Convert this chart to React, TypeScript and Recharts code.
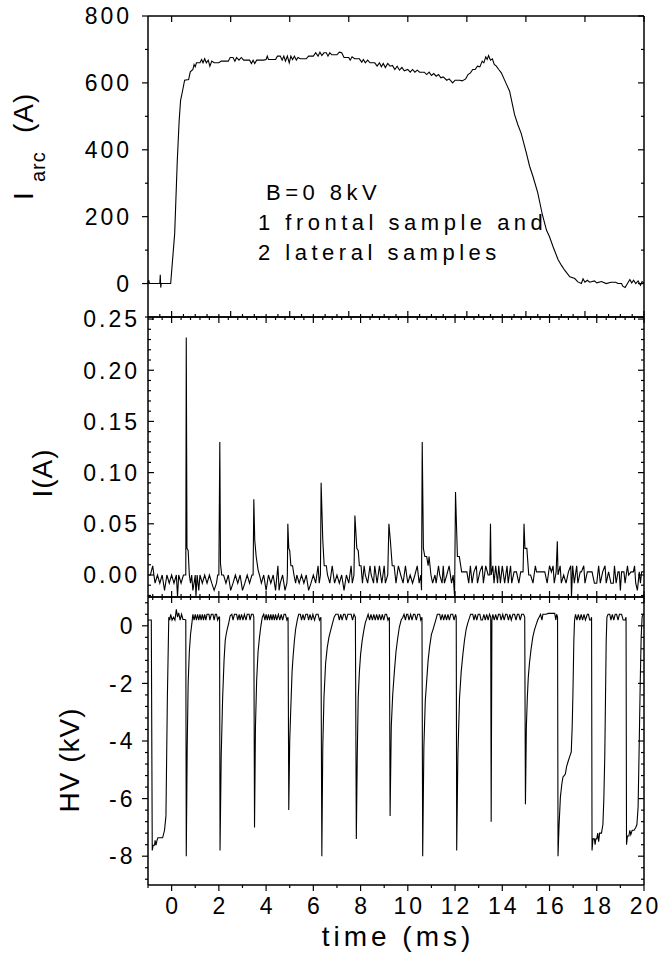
import { Line, LineChart, XAxis, YAxis } from 'recharts'

const W = 662
const H = 954
const PLOT_LEFT = 148
const PLOT_RIGHT = 644
const AXIS_PX = 1
const FONT = '"Liberation Sans", Arial, Helvetica, sans-serif'

const timeDomain: [number, number] = [-1, 20]

// arc current (t in ms, A)
const arcPoints: [number, number][] = [
  [-1.0, 0], [-0.97, 10], [-0.94, 0], [-0.5, 0], [-0.48, 26], [-0.46, -12], [-0.44, 0], [-0.04, 0],
  [0.13, 150], [0.24, 368], [0.32, 488], [0.38, 548], [0.46, 575], [0.55, 608], [0.72, 610], [0.79, 633],
  [0.9, 640], [0.95, 655], [1.0, 648], [1.05, 660], [1.2, 660], [1.27, 670], [1.33, 660], [1.4, 672],
  [1.47, 660], [1.55, 668], [1.62, 650], [1.7, 665], [1.8, 660], [2.0, 660], [2.1, 665], [2.4, 665],
  [2.48, 676], [2.6, 676], [2.68, 665], [2.75, 676], [2.85, 668], [2.95, 676], [3.05, 668], [3.3, 668],
  [3.38, 658], [3.45, 668], [3.52, 658], [3.6, 668], [3.9, 668], [4.0, 670], [4.05, 680], [4.1, 670],
  [4.4, 670], [4.48, 680], [4.6, 680], [4.68, 668], [4.75, 680], [4.82, 665], [4.9, 680], [4.98, 660],
  [5.05, 680], [5.12, 670], [5.2, 680], [5.28, 668], [5.35, 676], [5.45, 672], [5.7, 672], [5.8, 680],
  [6.0, 680], [6.1, 690], [6.2, 680], [6.28, 692], [6.36, 682], [6.45, 690], [6.55, 690], [6.62, 680],
  [6.7, 690], [6.78, 684], [7.0, 684], [7.1, 692], [7.2, 690], [7.3, 676], [7.5, 676], [7.56, 668],
  [7.64, 678], [7.75, 672], [7.95, 672], [8.05, 662], [8.12, 670], [8.2, 660], [8.3, 668], [8.4, 660],
  [8.6, 660], [8.7, 650], [8.8, 660], [8.88, 648], [8.96, 658], [9.05, 646], [9.15, 658], [9.25, 650],
  [9.35, 652], [9.45, 640], [9.55, 650], [9.65, 638], [9.75, 646], [9.85, 636], [10.0, 640], [10.1, 632],
  [10.2, 640], [10.3, 632], [10.4, 638], [10.5, 632], [10.7, 632], [10.8, 625], [10.9, 632], [11.0, 622],
  [11.1, 628], [11.2, 620], [11.3, 625], [11.4, 615], [11.5, 618], [11.65, 608], [11.75, 612], [11.9, 600],
  [12.0, 608], [12.2, 608], [12.3, 606], [12.45, 612], [12.55, 625], [12.65, 630], [12.75, 640], [12.85, 640],
  [12.95, 650], [13.05, 648], [13.15, 665], [13.22, 660], [13.3, 678], [13.36, 670], [13.42, 682], [13.5, 668],
  [13.58, 672], [13.66, 655], [13.75, 650], [13.85, 640], [13.96, 630], [14.15, 600], [14.31, 575], [14.52, 505],
  [14.66, 475], [14.8, 449], [15.02, 390], [15.16, 350], [15.3, 320], [15.5, 272], [15.7, 205], [15.87, 160],
  [16.0, 140], [16.15, 110], [16.36, 72], [16.5, 55], [16.64, 40], [16.86, 20], [17.07, 15], [17.2, 5],
  [17.35, 0], [17.42, 14], [17.5, 4], [17.6, 10], [17.7, 4], [17.9, 8], [18.0, 2], [18.2, 6],
  [18.4, 0], [18.6, 4], [18.8, 4], [18.9, 0], [19.05, 0], [19.1, -8], [19.2, -12], [19.3, 0],
  [19.4, 12], [19.48, 2], [19.56, 10], [19.65, 0], [19.75, 8], [19.85, -5], [19.92, 6], [20.0, 2],
]

// probe current (t in ms, A)
const probePoints: [number, number][] = [
  [-1.0, 0], [-0.9, 0], [-0.8, 0.009], [-0.75, 0], [-0.7, -0.008], [-0.6, 0], [-0.5, -0.008], [-0.4, 0],
  [-0.3, -0.015], [-0.2, 0], [-0.1, -0.008], [0.0, 0], [0.1, -0.008], [0.2, 0], [0.25, -0.021], [0.3, 0],
  [0.4, -0.008], [0.5, 0], [0.6, 0], [0.62, 0.232], [0.65, 0.026], [0.7, 0.024], [0.75, 0], [0.8, -0.008],
  [0.85, 0], [0.9, -0.015], [0.95, -0.008], [1.0, 0], [1.03, -0.021], [1.08, 0], [1.15, -0.015], [1.2, 0],
  [1.3, -0.008], [1.4, 0], [1.5, -0.008], [1.6, 0], [1.7, -0.008], [1.8, -0.015], [1.9, -0.008], [1.95, 0],
  [2.0, 0], [2.04, 0.13], [2.07, 0.011], [2.12, 0], [2.2, 0], [2.3, -0.008], [2.4, 0], [2.5, -0.015],
  [2.6, -0.008], [2.7, 0], [2.8, -0.008], [2.9, 0], [3.0, -0.015], [3.1, -0.008], [3.2, 0], [3.3, -0.008],
  [3.4, 0], [3.45, 0], [3.48, 0.074], [3.52, 0.034], [3.58, 0.018], [3.66, 0.005], [3.72, 0], [3.8, -0.008],
  [3.9, 0], [4.0, -0.015], [4.1, 0], [4.2, -0.008], [4.3, 0], [4.4, -0.015], [4.5, 0.009], [4.55, -0.015],
  [4.6, -0.008], [4.7, 0], [4.8, -0.015], [4.88, -0.008], [4.9, 0], [4.92, 0.05], [4.96, 0.026], [5.0, 0.024],
  [5.05, 0.009], [5.12, 0.009], [5.18, 0], [5.25, -0.008], [5.3, 0], [5.4, -0.008], [5.5, 0], [5.6, -0.008],
  [5.7, 0], [5.8, -0.015], [5.9, -0.008], [6.0, 0], [6.1, -0.008], [6.2, 0.009], [6.25, -0.008], [6.3, 0],
  [6.33, 0.09], [6.4, 0.034], [6.46, 0.009], [6.55, 0.009], [6.6, 0], [6.7, -0.008], [6.8, 0.009], [6.85, 0],
  [6.9, -0.008], [7.0, 0], [7.1, -0.008], [7.2, 0], [7.3, -0.015], [7.4, 0], [7.5, -0.008], [7.6, 0.009],
  [7.65, -0.008], [7.72, 0], [7.76, 0.058], [7.84, 0.026], [7.9, 0.024], [7.95, 0.009], [8.02, 0.009], [8.08, -0.008],
  [8.15, 0.009], [8.2, 0], [8.3, -0.008], [8.4, 0.009], [8.45, 0], [8.55, -0.008], [8.6, 0.009], [8.7, -0.008],
  [8.8, 0.009], [8.85, 0], [8.9, -0.008], [9.0, 0.009], [9.05, -0.008], [9.15, 0], [9.2, 0.05], [9.26, 0.034],
  [9.34, 0.009], [9.42, 0.009], [9.5, -0.008], [9.6, 0.009], [9.7, 0], [9.8, -0.008], [9.9, 0.009], [9.95, 0],
  [10.0, -0.008], [10.1, 0], [10.2, -0.008], [10.3, 0], [10.4, 0.009], [10.48, -0.008], [10.55, 0], [10.58, -0.015],
  [10.61, 0.13], [10.66, 0.026], [10.72, 0.018], [10.8, 0.018], [10.86, 0.009], [10.9, 0.018], [10.98, 0], [11.05, -0.008],
  [11.15, 0], [11.2, -0.008], [11.3, 0.009], [11.35, 0], [11.45, -0.008], [11.5, 0.009], [11.55, -0.008], [11.65, 0],
  [11.75, 0.009], [11.85, -0.008], [11.92, 0], [11.98, -0.021], [12.02, 0.081], [12.1, 0.018], [12.18, 0.018], [12.28, 0.003],
  [12.4, 0.003], [12.5, 0.003], [12.58, -0.008], [12.65, 0.009], [12.72, -0.008], [12.8, 0.003], [12.9, 0.009], [12.95, -0.008],
  [13.05, 0.003], [13.15, 0.009], [13.2, -0.008], [13.3, 0.009], [13.4, 0], [13.47, 0], [13.5, 0.05], [13.53, 0],
  [13.6, 0.009], [13.65, -0.008], [13.72, 0.009], [13.8, -0.008], [13.85, 0.009], [13.92, -0.008], [14.0, 0.009], [14.1, -0.008],
  [14.2, 0.009], [14.25, -0.008], [14.35, 0.009], [14.4, -0.008], [14.5, 0.003], [14.6, 0.003], [14.7, -0.008], [14.78, 0.003],
  [14.88, 0.003], [14.92, 0.05], [14.96, 0.026], [15.04, 0.026], [15.12, 0], [15.2, 0], [15.3, -0.008], [15.4, 0.009],
  [15.45, 0.003], [15.6, 0.003], [15.8, 0.003], [15.9, -0.008], [16.0, 0.009], [16.08, 0.003], [16.15, 0.009], [16.2, -0.008],
  [16.28, 0.003], [16.33, 0.033], [16.36, 0], [16.45, 0.009], [16.5, -0.008], [16.6, 0], [16.7, -0.008], [16.8, 0.003],
  [16.9, 0.009], [16.93, -0.021], [16.98, 0.009], [17.05, -0.008], [17.15, 0.009], [17.2, -0.008], [17.3, 0.003], [17.35, 0.003],
  [17.45, 0.009], [17.5, -0.008], [17.6, 0.003], [17.7, 0.003], [17.8, 0.003], [17.9, -0.008], [18.0, -0.008], [18.08, 0.009],
  [18.15, -0.008], [18.25, 0.003], [18.35, 0.009], [18.4, -0.008], [18.5, 0.003], [18.6, -0.008], [18.7, -0.008], [18.75, 0.009],
  [18.82, -0.008], [18.9, 0.003], [18.95, 0.003], [19.0, -0.015], [19.05, 0.003], [19.15, 0.003], [19.2, -0.008], [19.3, 0.009],
  [19.35, 0], [19.45, 0.003], [19.55, 0.003], [19.6, 0.009], [19.65, -0.008], [19.72, -0.015], [19.8, 0.003], [19.85, -0.008],
  [19.9, 0.003], [19.95, 0.003], [20.0, 0.003],
]

// high voltage (t in ms, kV)
const hvPoints: [number, number][] = [
  [-1.0, 0.2], [-0.86, 0.2], [-0.82, -7.8], [-0.78, -7.62], [-0.72, -7.62], [-0.7, -7.45], [-0.66, -7.62], [-0.62, -7.45],
  [-0.58, -7.36], [-0.38, -7.36], [-0.3, -7.1], [-0.24, -6.6], [-0.18, -2.5], [-0.12, 0.3], [-0.08, 0.2], [-0.04, 0.4],
  [0.02, 0.2], [0.08, 0.3], [0.14, 0.2], [0.2, 0.57], [0.25, 0.3], [0.3, 0.45], [0.36, 0.2], [0.42, 0.4],
  [0.48, 0.22], [0.56, 0.22], [0.6, 0.2],
  [0.62, -8.0], [0.66, -4.2], [0.7, -2.0], [0.75, -0.9], [0.8, -0.3], [0.86, 0.1], [0.9, 0.4], [0.95, 0.2],
  [1.0, 0.4], [1.05, 0.2], [1.1, 0.4], [1.15, 0.2], [1.2, 0.4], [1.25, 0.2], [1.3, 0.4], [1.35, 0.2],
  [1.4, 0.4], [1.45, 0.2], [1.5, 0.4], [1.58, 0.4], [1.62, 0.2], [1.68, 0.4], [1.75, 0.4], [1.8, 0.2],
  [1.85, 0.4], [1.9, 0.4], [1.95, 0.2], [2.0, 0.3], [2.03, 0.3],
  [2.05, -7.8], [2.1, -4.5], [2.16, -2.5], [2.22, -1.2], [2.27, -0.5], [2.32, -0.25], [2.36, -0.1], [2.42, 0.1],
  [2.48, 0.35], [2.55, 0.4], [2.6, 0.2], [2.66, 0.4], [2.75, 0.4], [2.8, 0.2], [2.86, 0.4], [2.9, 0.2],
  [2.96, 0.4], [3.02, 0.2], [3.08, 0.4], [3.15, 0.2], [3.2, 0.4], [3.28, 0.4], [3.32, 0.2], [3.38, 0.4],
  [3.45, 0.4], [3.48, 0.3],
  [3.51, -7.0], [3.55, -3.5], [3.6, -1.9], [3.66, -0.9], [3.72, -0.4], [3.78, 0.0], [3.84, 0.3], [3.9, 0.4],
  [3.95, 0.2], [4.0, 0.4], [4.05, 0.2], [4.1, 0.4], [4.15, 0.2], [4.2, 0.4], [4.25, 0.2], [4.3, 0.4],
  [4.35, 0.2], [4.4, 0.4], [4.45, 0.2], [4.52, 0.4], [4.58, 0.2], [4.64, 0.4], [4.7, 0.2], [4.76, 0.4],
  [4.82, 0.4], [4.88, 0.2], [4.93, 0.3],
  [4.96, -6.4], [5.0, -4.0], [5.04, -3.0], [5.1, -1.6], [5.14, -1.1], [5.2, -0.5], [5.25, -0.12], [5.32, 0.2],
  [5.38, 0.4], [5.45, 0.4], [5.5, 0.2], [5.56, 0.4], [5.62, 0.2], [5.68, 0.4], [5.75, 0.4], [5.8, 0.2],
  [5.86, 0.4], [5.92, 0.2], [5.98, 0.4], [6.05, 0.2], [6.12, 0.4], [6.2, 0.4], [6.26, 0.2], [6.32, 0.3],
  [6.36, -8.0], [6.4, -4.2], [6.45, -2.5], [6.52, -1.3], [6.59, -0.75], [6.66, -0.4], [6.72, -0.2], [6.8, 0.05],
  [6.88, 0.3], [6.95, 0.4], [7.05, 0.4], [7.1, 0.2], [7.16, 0.4], [7.22, 0.2], [7.28, 0.4], [7.34, 0.4],
  [7.4, 0.2], [7.46, 0.4], [7.52, 0.4], [7.6, 0.4], [7.66, 0.2], [7.72, 0.4], [7.78, 0.3],
  [7.82, -7.4], [7.86, -4.5], [7.9, -2.5], [7.95, -1.6], [8.0, -1.0], [8.07, -0.5], [8.14, -0.15], [8.2, 0.1],
  [8.26, 0.25], [8.32, 0.4], [8.38, 0.2], [8.44, 0.4], [8.5, 0.2], [8.56, 0.4], [8.62, 0.2], [8.68, 0.4],
  [8.74, 0.2], [8.8, 0.4], [8.86, 0.2], [8.92, 0.4], [8.98, 0.2], [9.04, 0.4], [9.1, 0.4], [9.16, 0.2],
  [9.22, 0.3],
  [9.25, -6.6], [9.3, -3.5], [9.36, -2.4], [9.43, -1.6], [9.5, -0.9], [9.56, -0.5], [9.64, -0.05], [9.72, 0.2],
  [9.79, 0.3], [9.84, 0.4], [9.9, 0.2], [9.95, 0.4], [10.0, 0.4], [10.05, 0.2], [10.12, 0.4], [10.18, 0.2],
  [10.24, 0.4], [10.3, 0.4], [10.36, 0.2], [10.42, 0.4], [10.5, 0.4], [10.55, 0.2], [10.6, 0.3],
  [10.63, -8.0], [10.68, -4.2], [10.74, -2.6], [10.8, -1.9], [10.86, -1.2], [10.92, -0.75], [11.0, -0.3], [11.06, -0.15],
  [11.13, 0.05], [11.2, 0.25], [11.25, 0.4], [11.35, 0.4], [11.4, 0.2], [11.46, 0.4], [11.52, 0.2], [11.58, 0.4],
  [11.64, 0.2], [11.7, 0.4], [11.76, 0.2], [11.82, 0.4], [11.9, 0.4], [11.96, 0.2], [12.02, 0.4], [12.05, 0.3],
  [12.07, -7.8], [12.12, -4.5], [12.19, -2.5], [12.26, -1.6], [12.33, -1.0], [12.4, -0.5], [12.47, -0.12], [12.54, 0.1],
  [12.6, 0.25], [12.66, 0.4], [12.75, 0.4], [12.8, 0.2], [12.86, 0.4], [12.92, 0.2], [12.98, 0.4], [13.05, 0.4],
  [13.1, 0.2], [13.16, 0.2], [13.22, 0.4], [13.28, 0.2], [13.34, 0.4], [13.4, 0.2], [13.46, 0.4], [13.51, 0.3],
  [13.53, -6.8], [13.56, 0.2], [13.6, 0.4], [13.66, 0.2], [13.72, 0.4], [13.78, 0.2], [13.84, 0.4], [13.9, 0.4],
  [13.95, 0.2], [14.02, 0.4], [14.08, 0.2], [14.14, 0.4], [14.2, 0.4], [14.26, 0.2], [14.32, 0.4], [14.38, 0.2],
  [14.45, 0.4], [14.52, 0.4], [14.58, 0.2], [14.64, 0.4], [14.7, 0.4], [14.76, 0.2], [14.82, 0.4], [14.9, 0.4],
  [14.95, 0.3],
  [14.98, -6.2], [15.02, -3.5], [15.06, -2.5], [15.1, -1.8], [15.15, -1.3], [15.22, -0.8], [15.29, -0.4], [15.36, -0.15],
  [15.43, 0.03], [15.5, 0.2], [15.56, 0.3], [15.62, 0.4], [15.68, 0.2], [15.72, 0.4], [15.78, 0.4], [15.85, 0.4],
  [15.95, 0.43], [16.05, 0.43], [16.15, 0.43], [16.22, 0.43], [16.27, 0.2], [16.3, 0.4], [16.34, 0.3],
  [16.36, -8.0], [16.4, -7.0], [16.46, -5.95], [16.52, -5.5], [16.57, -5.25], [16.62, -5.2], [16.67, -5.15], [16.72, -4.9],
  [16.78, -4.73], [16.85, -4.55], [16.92, -4.38], [16.96, -3.5], [16.99, -2.4], [17.03, -0.5], [17.06, 0.2], [17.1, 0.4],
  [17.16, 0.2], [17.22, 0.4], [17.28, 0.2], [17.34, 0.4], [17.4, 0.2], [17.46, 0.4], [17.52, 0.2], [17.6, 0.4],
  [17.65, 0.4], [17.7, 0.2], [17.75, 0.2], [17.78, 0.3],
  [17.8, -7.8], [17.84, -7.4], [17.9, -7.4], [17.93, -7.6], [17.96, -7.4], [18.0, -7.4], [18.04, -7.2], [18.08, -7.5],
  [18.12, -7.2], [18.2, -7.2], [18.26, -6.9], [18.3, -6.0], [18.34, -4.5], [18.37, -2.5], [18.4, -0.5], [18.43, 0.3],
  [18.48, 0.4], [18.55, 0.4], [18.6, 0.2], [18.66, 0.4], [18.72, 0.2], [18.78, 0.4], [18.84, 0.4], [18.9, 0.2],
  [18.96, 0.4], [19.05, 0.4], [19.12, 0.2], [19.2, 0.2], [19.24, 0.3],
  [19.26, -7.6], [19.3, -7.3], [19.36, -7.3], [19.4, -7.1], [19.44, -7.25], [19.5, -7.1], [19.58, -7.1], [19.65, -7.0],
  [19.7, -6.9], [19.75, -6.3], [19.8, -4.0], [19.84, -2.0], [19.88, -0.4], [19.92, 0.3], [19.96, 0.4], [20.0, 0.4],
]

const arcLabels = [0, 200, 400, 600, 800]
const probeLabels = [0, 0.05, 0.1, 0.15, 0.2, 0.25]
const hvLabels = [0, -2, -4, -6, -8]
const timeLabels = [0, 2, 4, 6, 8, 10, 12, 14, 16, 18, 20]

// evenly spaced tick positions, rounded so floats compare cleanly
function steps(from: number, to: number, by: number) {
  const out: number[] = []
  const n = Math.round((to - from) / by)
  for (let i = 0; i <= n; i++) out.push(Number((from + i * by).toFixed(4)))
  return out
}

const near = (list: number[], v: number) => list.some((m) => Math.abs(m - v) < 1e-6)

const tickText = { fontFamily: FONT, fontSize: 23, letterSpacing: 3, fill: '#000' }
const frame = { stroke: '#000', strokeWidth: 1.5 }

type Side = 'left' | 'right' | 'top' | 'bottom'
interface TickOpts {
  out: boolean
  majors: number[]
  labels?: number[]
  fmt?: (v: number) => string
  gap?: number
}

function axisTick(side: Side, opts: TickOpts) {
  return (props: any) => {
    const { x, y, payload } = props
    const v = Number(payload.value)
    const len = near(opts.majors, v) ? 6 : 3
    const s = opts.out ? 1 : -1
    const dx = side === 'left' ? -s * len : side === 'right' ? s * len : 0
    const dy = side === 'top' ? -s * len : side === 'bottom' ? s * len : 0
    const label = opts.labels && near(opts.labels, v) ? (opts.fmt ?? String)(v) : null
    return (
      <g>
        <line x1={x} y1={y} x2={x + dx} y2={y + dy} stroke="#000" strokeWidth={1.2} />
        {label !== null && side === 'left' && (
          <text x={x - (opts.gap ?? 12)} y={y} dy="0.36em" textAnchor="end" style={tickText}>
            {label}
          </text>
        )}
        {label !== null && side === 'bottom' && (
          <text x={x + 1.5} y={y + (opts.gap ?? 30)} textAnchor="middle" style={tickText}>
            {label}
          </text>
        )}
      </g>
    )
  }
}

interface PanelProps {
  points: [number, number][]
  top: number
  bottom: number
  yDomain: [number, number]
  yTicks: number[]
  yLabels: number[]
  yFmt: (v: number) => string
  yOut: boolean
  yGap: number
  topTicks: number[]
  topMajors: number[]
  bottomTicks: number[]
  bottomMajors: number[]
  bottomLabels?: number[]
  bottomOut: boolean
}

function Panel(p: PanelProps) {
  const data = p.points.map(([t, v]) => ({ t, v }))
  // axes take AXIS_PX each, so the margins are trimmed by that much
  const margin = {
    top: p.top - AXIS_PX,
    bottom: H - p.bottom - AXIS_PX,
    left: PLOT_LEFT - AXIS_PX,
    right: W - PLOT_RIGHT - AXIS_PX,
  }
  return (
    <div style={{ position: 'absolute', left: 0, top: 0 }}>
      <LineChart width={W} height={H} data={data} margin={margin}>
        <XAxis
          xAxisId="top"
          orientation="top"
          dataKey="t"
          type="number"
          domain={timeDomain}
          ticks={p.topTicks}
          interval={0}
          height={AXIS_PX}
          tickSize={0}
          tickMargin={0}
          tickLine={false}
          axisLine={frame}
          tick={axisTick('top', { out: false, majors: p.topMajors })}
        />
        <XAxis
          xAxisId="b"
          orientation="bottom"
          dataKey="t"
          type="number"
          domain={timeDomain}
          ticks={p.bottomTicks}
          interval={0}
          height={AXIS_PX}
          tickSize={0}
          tickMargin={0}
          tickLine={false}
          axisLine={frame}
          tick={axisTick('bottom', {
            out: p.bottomOut,
            majors: p.bottomMajors,
            labels: p.bottomLabels,
            gap: 29,
          })}
        />
        <YAxis
          yAxisId="l"
          orientation="left"
          type="number"
          domain={p.yDomain}
          ticks={p.yTicks}
          interval={0}
          width={AXIS_PX}
          tickSize={0}
          tickMargin={0}
          tickLine={false}
          axisLine={frame}
          allowDataOverflow
          tick={axisTick('left', {
            out: p.yOut,
            majors: p.yLabels,
            labels: p.yLabels,
            fmt: p.yFmt,
            gap: p.yGap,
          })}
        />
        <YAxis
          yAxisId="r"
          orientation="right"
          type="number"
          domain={p.yDomain}
          ticks={p.yTicks}
          interval={0}
          width={AXIS_PX}
          tickSize={0}
          tickMargin={0}
          tickLine={false}
          axisLine={frame}
          allowDataOverflow
          tick={axisTick('right', { out: false, majors: p.yLabels })}
        />
        <Line
          xAxisId="b"
          yAxisId="l"
          type="linear"
          dataKey="v"
          stroke="#000"
          strokeWidth={1.1}
          dot={false}
          activeDot={false}
          isAnimationActive={false}
        />
      </LineChart>
    </div>
  )
}

const titleText = { fontFamily: FONT, fontSize: 28, letterSpacing: 1, fill: '#000' }
const noteText = { fontFamily: FONT, fontSize: 22, letterSpacing: 4.5, fill: '#000' }

export default function App() {
  return (
    <div style={{ position: 'absolute', left: 0, top: 0, width: W, height: H, background: '#fff' }}>
      <Panel
        points={arcPoints}
        top={16}
        bottom={317}
        yDomain={[-100, 800]}
        yTicks={steps(-100, 800, 100)}
        yLabels={arcLabels}
        yFmt={(v) => String(v)}
        yOut
        yGap={16}
        topTicks={steps(0, 20, 2.5)}
        topMajors={steps(0, 20, 2.5)}
        bottomTicks={steps(-0.5, 20, 0.5)}
        bottomMajors={steps(0, 20, 2.5)}
        bottomOut={false}
      />
      <Panel
        points={probePoints}
        top={317}
        bottom={597}
        yDomain={[-0.0215, 0.252]}
        yTicks={steps(-0.02, 0.25, 0.01)}
        yLabels={probeLabels}
        yFmt={(v) => v.toFixed(2)}
        yOut={false}
        yGap={8}
        topTicks={steps(-0.8, 20, 0.4)}
        topMajors={timeLabels}
        bottomTicks={steps(-0.8, 20, 0.4)}
        bottomMajors={timeLabels}
        bottomOut={false}
      />
      <Panel
        points={hvPoints}
        top={597}
        bottom={885}
        yDomain={[-9, 1]}
        yTicks={steps(-8.8, 0.8, 0.4)}
        yLabels={hvLabels}
        yFmt={(v) => String(v)}
        yOut
        yGap={12.5}
        topTicks={steps(-0.8, 20, 0.4)}
        topMajors={timeLabels}
        bottomTicks={steps(-1, 20, 1)}
        bottomMajors={timeLabels}
        bottomLabels={timeLabels}
        bottomOut
      />
      <svg width={W} height={H} style={{ position: 'absolute', left: 0, top: 0, pointerEvents: 'none' }}>
        <text transform="translate(33, 200) rotate(-90)" style={titleText}>
          <tspan x={0}>I</tspan>
          <tspan x={18} dy={12} fontSize={20}>
            arc
          </tspan>
          <tspan x={67} dy={-12}>
            (A)
          </tspan>
        </text>
        <text transform="translate(52, 473) rotate(-90)" textAnchor="middle" style={titleText}>
          I(A)
        </text>
        <text transform="translate(79, 760) rotate(-90)" textAnchor="middle" style={titleText}>
          HV (kV)
        </text>
        <text x={398} y={946} textAnchor="middle" style={{ ...titleText, letterSpacing: 4 }}>
          time (ms)
        </text>
        <text x={266} y={200} style={noteText}>
          B=0 8kV
        </text>
        <text x={258} y={230} style={noteText}>
          1 frontal sample and
        </text>
        <text x={258} y={260} style={noteText}>
          2 lateral samples
        </text>
      </svg>
    </div>
  )
}
